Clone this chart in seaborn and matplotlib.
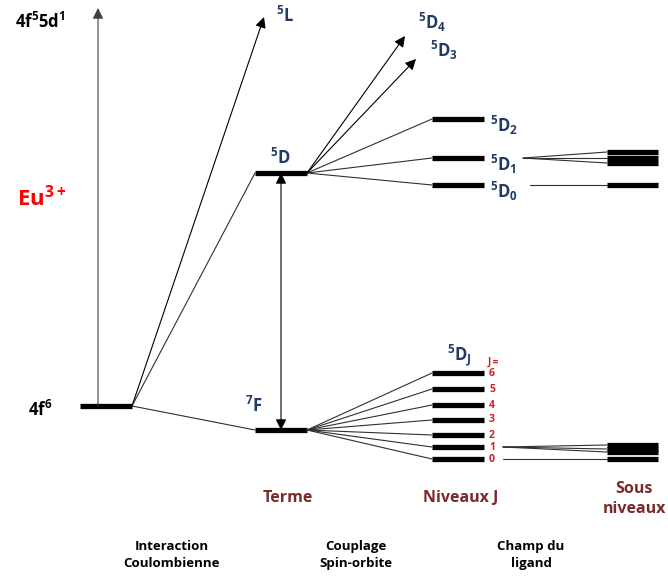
import matplotlib
matplotlib.use("Agg")
import matplotlib.pyplot as plt
import seaborn as sns
import pandas as pd

sns.set_style("white")
plt.rcParams['font.family'] = ['Open Sans', 'DejaVu Sans']
plt.rcParams['font.weight'] = 'bold'
plt.rcParams['mathtext.fontset'] = 'custom'
plt.rcParams['mathtext.rm'] = 'Open Sans:bold'
plt.rcParams['mathtext.it'] = 'Open Sans:bold'
plt.rcParams['mathtext.bf'] = 'Open Sans:bold'

# energy positions (diagram units, top = high energy)
config_y = 406            # 4f6 ground configuration
excited_config_y = 8      # 4f5 5d1 (arrow tip)
term_names = ["5D", "7F"]
term_y = [173, 430]
term_5L_y = 17
d_levels = ["5D2", "5D1", "5D0"]
d_levels_y = [119, 158, 185]
d_arrows = ["5D4", "5D3"]
d_arrows_y = [36, 59]
f_j = [0, 1, 2, 3, 4, 5, 6]
f_j_y = [459, 447, 435, 420, 405, 389, 373]
sub_d1_y = [152, 158, 163]
sub_d0_y = [185]
sub_f1_y = [445, 449, 452]
sub_f0_y = [459]

# column spans for level bars
col_x = [(80, 132), (255, 307), (432, 484), (607, 658)]

blue = "#1f3b63"
red_j = "#cc2020"
brown = "#7a2a2a"
bar_lw = 3.8
thin = dict(color="#303030", lw=0.8)

fig = plt.figure(figsize=(6.68, 5.79), dpi=100)
ax = fig.add_axes([0, 0, 1, 1])
ax.set_xlim(0, 668)
ax.set_ylim(579, 0)
ax.axis("off")

bars = pd.DataFrame(
    [(0, config_y)]
    + [(1, y) for y in term_y]
    + [(2, y) for y in d_levels_y]
    + [(2, y) for y in f_j_y]
    + [(3, y) for y in sub_d1_y + sub_d0_y + sub_f1_y + sub_f0_y],
    columns=["col", "y"],
)
for _, r in bars.iterrows():
    x0, x1 = col_x[int(r.col)]
    ax.hlines(r.y, x0, x1, color="black", lw=bar_lw)

arrow = dict(arrowstyle="-|>", color="black", lw=0.8, mutation_scale=16, shrinkA=0, shrinkB=0)

# configuration 4f6 -> 4f5 5d1
ax.annotate("", xy=(98, excited_config_y), xytext=(98, config_y),
            arrowprops=dict(arrow, color="#404040"))
# Coulomb interaction: 4f6 -> terms
ax.annotate("", xy=(264, term_5L_y), xytext=(col_x[0][1], config_y), arrowprops=arrow)
for y in term_y:
    ax.plot([col_x[0][1], col_x[1][0]], [config_y, y], **thin)
# 5D <-> 7F
ax.annotate("", xy=(281, term_y[0]), xytext=(281, term_y[1]),
            arrowprops=dict(arrow, arrowstyle="<|-|>"))

# spin-orbit splitting of 5D
for x_tip, y in zip([405, 416], d_arrows_y):
    ax.annotate("", xy=(x_tip, y), xytext=(col_x[1][1], term_y[0]), arrowprops=arrow)
for y in d_levels_y:
    ax.plot([col_x[1][1], col_x[2][0]], [term_y[0], y], **thin)
# spin-orbit splitting of 7F
for y in f_j_y:
    ax.plot([col_x[1][1], col_x[2][0]], [term_y[1], y], **thin)

# ligand field
for y in sub_d1_y:
    ax.plot([523, col_x[3][0]], [d_levels_y[1], y], **thin)
ax.plot([530, col_x[3][0]], [d_levels_y[2], sub_d0_y[0]], **thin)
for y in sub_f1_y:
    ax.plot([503, col_x[3][0]], [f_j_y[1], y], **thin)
ax.plot([503, col_x[3][0]], [f_j_y[0], sub_f0_y[0]], **thin)

# labels
ax.text(15, 22, "4f$^5$5d$^1$", fontsize=12, color="black", va="center")
ax.text(28, 410, "4f$^6$", fontsize=12, color="black", va="center")
ax.text(17, 198, "Eu$^{3+}$", fontsize=16, color="#ff0000", va="center")
ax.text(276, 16, "$^5$L", fontsize=12, color=blue, va="center")
ax.text(270, 158, "$^5$D", fontsize=12, color=blue, va="center")
ax.text(245, 406, "$^7$F", fontsize=12, color=blue, va="center")
ax.text(418, 22, "$^5$D$_4$", fontsize=12, color=blue, va="center")
ax.text(430, 50, "$^5$D$_3$", fontsize=12, color=blue, va="center")
for name, y in zip(d_levels, d_levels_y):
    ax.text(490, y + 6, "$^5$D$_{%s}$" % name[-1], fontsize=12, color=blue, va="center")
ax.text(447, 355, "$^5$D$_J$", fontsize=12, color=blue, va="center")
ax.text(488, 362, "J =", fontsize=7, color=red_j, va="center")
for j, y in zip(f_j, f_j_y):
    ax.text(489, y, str(j), fontsize=7.5, color=red_j, va="center")

ax.text(288, 498, "Terme", fontsize=11.5, color=brown, ha="center", va="center")
ax.text(461, 498, "Niveaux J", fontsize=11.5, color=brown, ha="center", va="center")
ax.text(634, 499, "Sous\nniveaux", fontsize=11.5, color=brown, ha="center", va="center",
        linespacing=1.35)
for x, s in zip([172, 356, 531], ["Interaction\nCoulombienne", "Couplage\nSpin-orbite", "Champ du\nligand"]):
    ax.text(x, 555, s, fontsize=9.5, color="black", ha="center", va="center", linespacing=1.45)

fig.savefig("out.png", dpi=100)
